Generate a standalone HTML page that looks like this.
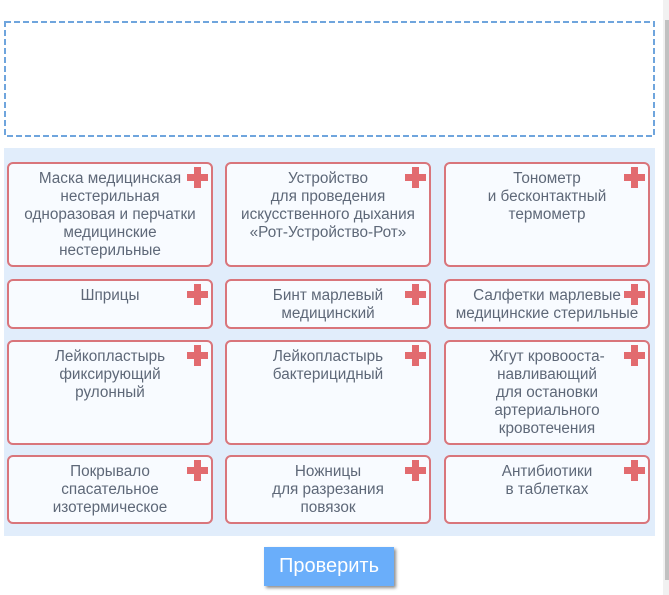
<!DOCTYPE html>
<html><head><meta charset="utf-8"><style>
html,body{margin:0;padding:0;background:#fff;width:669px;height:595px;overflow:hidden;position:relative;font-family:"Liberation Sans",Arial,sans-serif}
.panel{position:absolute;left:4px;top:148px;width:651px;height:388px;background:#e1edfb}
.card{position:absolute;box-sizing:border-box;width:206px;border:2px solid #d9757b;border-radius:6px;background:#f8fbff;color:#5e6878;font-size:15.3px;line-height:18px;text-align:center;padding-top:6px}
.cross{position:absolute;right:3px;top:3px;width:21px;height:21px}
.cross:before{content:"";position:absolute;left:0;top:7px;width:21px;height:7px;background:#e26b6f}
.cross:after{content:"";position:absolute;left:7px;top:0;width:7px;height:21px;background:#e26b6f}
.btn{position:absolute;left:264px;top:547px;width:130px;height:39px;background:#6aaefa;color:#fff;font-size:20px;line-height:39px;text-align:center;box-shadow:2px 2px 3px rgba(0,0,0,0.45)}
.track{position:absolute;left:663px;top:0;width:6px;height:595px;background:#f1f1f1}
.thumb{position:absolute;left:665px;top:20px;width:4px;height:560px;background:#c1c1c1}
</style></head><body>
<svg style="position:absolute;left:0;top:0" width="669" height="160">
<rect x="5" y="22" width="649" height="114" fill="none" stroke="#6fa5dd" stroke-width="2" stroke-dasharray="6 3"/>
</svg>
<div class="panel"></div>

<div class="card" style="left:7px;top:162px;height:105px"><div class="cross"></div>Маска медицинская<br>нестерильная<br>одноразовая и перчатки<br>медицинские<br>нестерильные</div>
<div class="card" style="left:225px;top:162px;height:105px"><div class="cross"></div>Устройство<br>для проведения<br>искусственного дыхания<br>«Рот-Устройство-Рот»</div>
<div class="card" style="left:444px;top:162px;height:105px"><div class="cross"></div>Тонометр<br>и бесконтактный<br>термометр</div>

<div class="card" style="left:7px;top:279px;height:50px"><div class="cross"></div>Шприцы</div>
<div class="card" style="left:225px;top:279px;height:50px"><div class="cross"></div>Бинт марлевый<br>медицинский</div>
<div class="card" style="left:444px;top:279px;height:50px"><div class="cross"></div>Салфетки марлевые<br>медицинские стерильные</div>

<div class="card" style="left:7px;top:340px;height:105px"><div class="cross"></div>Лейкопластырь<br>фиксирующий<br>рулонный</div>
<div class="card" style="left:225px;top:340px;height:105px"><div class="cross"></div>Лейкопластырь<br>бактерицидный</div>
<div class="card" style="left:444px;top:340px;height:105px"><div class="cross"></div>Жгут кровооста-<br>навливающий<br>для остановки<br>артериального<br>кровотечения</div>

<div class="card" style="left:7px;top:455px;height:69px"><div class="cross"></div>Покрывало<br>спасательное<br>изотермическое</div>
<div class="card" style="left:225px;top:455px;height:69px"><div class="cross"></div>Ножницы<br>для разрезания<br>повязок</div>
<div class="card" style="left:444px;top:455px;height:69px"><div class="cross"></div>Антибиотики<br>в таблетках</div>

<div class="btn">Проверить</div>
<div class="track"></div><div class="thumb"></div>
</body></html>
